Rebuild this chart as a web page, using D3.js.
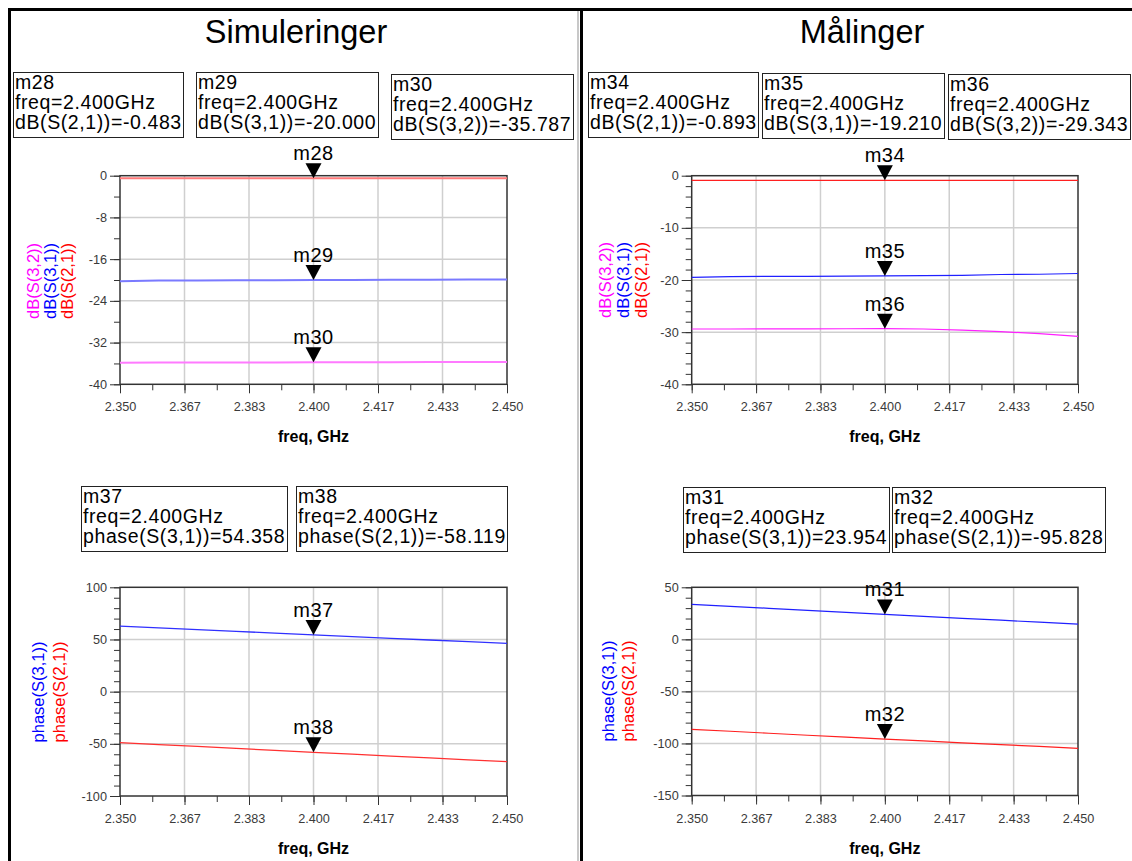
<!DOCTYPE html>
<html>
<head>
<meta charset="utf-8">
<script src="https://cdn.jsdelivr.net/npm/d3@7"></script>
<style>
  html, body { margin: 0; padding: 0; background: #fff; }
  svg { display: block; font-family: "Liberation Sans", Arial, sans-serif; }
</style>
</head>
<body>
<svg id="chart" width="1132" height="861"></svg>
<script>
// Frequency sweep (GHz)
const freqGHz = [2.35, 2.36, 2.37, 2.38, 2.39, 2.40, 2.41, 2.42, 2.43, 2.44, 2.45];

// Simulated magnitudes (dB)
const simS21dB = [-0.47, -0.47, -0.48, -0.48, -0.48, -0.483, -0.49, -0.49, -0.49, -0.50, -0.50];
const simS31dB = [-20.25, -20.1, -20.08, -20.06, -20.03, -20.0, -19.98, -19.96, -19.94, -19.92, -19.9];
const simS32dB = [-35.85, -35.84, -35.82, -35.81, -35.8, -35.787, -35.76, -35.75, -35.74, -35.73, -35.72];

// Measured magnitudes (dB)
const measS21dB = [-0.88, -0.88, -0.89, -0.89, -0.89, -0.893, -0.89, -0.89, -0.9, -0.9, -0.9];
const measS31dB = [-19.5, -19.35, -19.3, -19.3, -19.25, -19.21, -19.15, -19.1, -18.95, -18.9, -18.75];
const measS32dB = [-29.4, -29.4, -29.38, -29.36, -29.35, -29.343, -29.4, -29.6, -29.9, -30.3, -30.8];

// Simulated and measured phases (degrees)
const simS31Phase = [62.8, 61.2, 59.5, 57.8, 56.1, 54.358, 52.7, 51.1, 49.5, 47.9, 46.3];
const simS21Phase = [-48.8, -50.7, -52.5, -54.4, -56.3, -58.119, -59.9, -61.7, -63.5, -65.3, -67.1];
const measS31Phase = [33.6, 31.7, 29.8, 27.9, 25.9, 23.954, 22.1, 20.2, 18.4, 16.5, 14.7];
const measS21Phase = [-86.4, -88.3, -90.2, -92.1, -94.0, -95.828, -97.6, -99.4, -101.1, -102.9, -104.7];

// Tick labels
const xTickLabels = ["2.350", "2.367", "2.383", "2.400", "2.417", "2.433", "2.450"];
const simDbTickLabels = ["0", "-8", "-16", "-24", "-32", "-40"];
const measDbTickLabels = ["0", "-10", "-20", "-30", "-40"];
const simPhaseTickLabels = ["100", "50", "0", "-50", "-100"];
const measPhaseTickLabels = ["50", "0", "-50", "-100", "-150"];

// Marker readouts
const markerNames  = ["m28", "m29", "m30", "m34", "m35", "m36", "m37", "m38", "m31", "m32"];
const markerFreq   = [2.4, 2.4, 2.4, 2.4, 2.4, 2.4, 2.4, 2.4, 2.4, 2.4];
const markerTraces = ["dB(S(2,1))", "dB(S(3,1))", "dB(S(3,2))", "dB(S(2,1))", "dB(S(3,1))", "dB(S(3,2))",
                      "phase(S(3,1))", "phase(S(2,1))", "phase(S(3,1))", "phase(S(2,1))"];
const markerValues = [-0.483, -20.000, -35.787, -0.893, -19.210, -29.343, 54.358, -58.119, 23.954, -95.828];

const panelTitles = ["Simuleringer", "Målinger"];

const svg = d3.select("#chart");
const FONT = '"Liberation Sans", Arial, sans-serif';

// Page frame
svg.append("rect").attr("x", 0).attr("y", 0).attr("width", 1132).attr("height", 861).attr("fill", "#fff");
svg.append("rect").attr("x", 577).attr("y", 11).attr("width", 2).attr("height", 850).attr("fill", "#c8c8c8");
svg.append("rect").attr("x", 8).attr("y", 8).attr("width", 1124).attr("height", 3).attr("fill", "#000");
svg.append("rect").attr("x", 8).attr("y", 8).attr("width", 3).attr("height", 853).attr("fill", "#000");
svg.append("rect").attr("x", 580).attr("y", 8).attr("width", 3).attr("height", 853).attr("fill", "#000");

// Titles
[[296, panelTitles[0]], [862, panelTitles[1]]].forEach(([cx, t]) => {
  svg.append("text").attr("x", cx).attr("y", 43).attr("text-anchor", "middle")
    .attr("font-size", 32.5).attr("fill", "#000").text(t);
});

// Plot layouts
const plots = [
  { left: 120, right: 507, top: 175.7, bottom: 384.3, ticks: simDbTickLabels, minor: 4,
    labelX: [33, 50, 67], labelY: 281, xLabBase: 411, freqBase: 442, lw: 2,
    series: [
      { v: simS21dB, c: "#ff7a7a", name: "dB(S(2,1))" },
      { v: simS31dB, c: "#7a7aff", name: "dB(S(3,1))" },
      { v: simS32dB, c: "#ff7aff", name: "dB(S(3,2))" }],
    labels: [["dB(S(3,2))", "#ff00ff"], ["dB(S(3,1))", "#0000ff"], ["dB(S(2,1))", "#ff0000"]],
    markers: [0, 1, 2] },
  { left: 691.7, right: 1078, top: 175.7, bottom: 384.3, ticks: measDbTickLabels, minor: 2,
    labelX: [605, 623, 641], labelY: 280, xLabBase: 411, freqBase: 442, lw: 1.2,
    series: [
      { v: measS21dB, c: "#ff2020", name: "dB(S(2,1))" },
      { v: measS31dB, c: "#2020ff", name: "dB(S(3,1))" },
      { v: measS32dB, c: "#ff20ff", name: "dB(S(3,2))" }],
    labels: [["dB(S(3,2))", "#ff00ff"], ["dB(S(3,1))", "#0000ff"], ["dB(S(2,1))", "#ff0000"]],
    markers: [3, 4, 5] },
  { left: 120, right: 507, top: 587.3, bottom: 796, ticks: simPhaseTickLabels, minor: 10,
    labelX: [38, 59], labelY: 692, xLabBase: 823, freqBase: 854, lw: 1.3,
    series: [
      { v: simS31Phase, c: "#3030ff", name: "phase(S(3,1))" },
      { v: simS21Phase, c: "#ff3030", name: "phase(S(2,1))" }],
    labels: [["phase(S(3,1))", "#0000ff"], ["phase(S(2,1))", "#ff0000"]],
    markers: [6, 7] },
  { left: 691.7, right: 1078, top: 587.3, bottom: 795.5, ticks: measPhaseTickLabels, minor: 10,
    labelX: [608, 628], labelY: 691, xLabBase: 823, freqBase: 854, lw: 1.2,
    series: [
      { v: measS31Phase, c: "#2020ff", name: "phase(S(3,1))" },
      { v: measS21Phase, c: "#ff2020", name: "phase(S(2,1))" }],
    labels: [["phase(S(3,1))", "#0000ff"], ["phase(S(2,1))", "#ff0000"]],
    markers: [8, 9] }
];

const xTickVals = xTickLabels.map(Number);
const xMinor = d3.range(0, 13).map(i => 2.35 + i * (0.1 / 12));

plots.forEach(p => {
  const yVals = p.ticks.map(Number);
  const yMin = d3.min(yVals), yMax = d3.max(yVals);
  const x = d3.scaleLinear().domain([2.35, 2.45]).range([p.left, p.right]);
  const y = d3.scaleLinear().domain([yMin, yMax]).range([p.bottom, p.top]);
  const xMajor = d3.range(0, 7).map(i => 2.35 + i * (0.1 / 6));
  const g = svg.append("g");

  // grid
  g.selectAll("line.gx").data(xMajor.slice(1, -1)).join("line")
    .attr("x1", d => x(d)).attr("x2", d => x(d)).attr("y1", p.top).attr("y2", p.bottom)
    .attr("stroke", "#cfcfcf").attr("stroke-width", 1.5);
  g.selectAll("line.gy").data(yVals.filter(v => v !== yMin && v !== yMax)).join("line")
    .attr("x1", p.left).attr("x2", p.right).attr("y1", d => y(d)).attr("y2", d => y(d))
    .attr("stroke", "#cfcfcf").attr("stroke-width", 1.5);

  // minor ticks
  const yMinor = d3.range(yMin, yMax + 1e-9, p.minor);
  g.append("g").attr("transform", `translate(${p.left},0)`)
    .call(d3.axisLeft(y).tickValues(yMinor).tickSize(6).tickFormat(""))
    .call(a => a.select(".domain").remove())
    .call(a => a.selectAll("line").attr("stroke", "#333"));
  g.append("g").attr("transform", `translate(0,${p.bottom})`)
    .call(d3.axisBottom(x).tickValues(xMinor).tickSize(6).tickFormat(""))
    .call(a => a.select(".domain").remove())
    .call(a => a.selectAll("line").attr("stroke", "#333"));

  // major ticks and labels
  g.append("g").attr("transform", `translate(${p.left},0)`)
    .call(d3.axisLeft(y).tickValues(yVals).tickSize(10).tickPadding(3)
      .tickFormat((d, i) => p.ticks[i]))
    .call(a => a.select(".domain").remove())
    .call(a => a.selectAll("line").attr("stroke", "#333"))
    .call(a => a.selectAll("text").attr("font-size", 12.7).attr("font-family", FONT).attr("fill", "#3a3a3a"));
  g.append("g").attr("transform", `translate(0,${p.bottom})`)
    .call(d3.axisBottom(x).tickValues(xTickVals.map((v, i) => xMajor[i])).tickSize(9).tickPadding(0)
      .tickFormat((d, i) => xTickLabels[i]))
    .call(a => a.select(".domain").remove())
    .call(a => a.selectAll("line").attr("stroke", "#333"))
    .call(a => a.selectAll("text").attr("font-size", 12.7).attr("font-family", FONT).attr("fill", "#3a3a3a")
      .attr("dy", null).attr("y", p.xLabBase - p.bottom));

  // frame
  g.append("rect").attr("x", p.left).attr("y", p.top)
    .attr("width", p.right - p.left).attr("height", p.bottom - p.top)
    .attr("fill", "none").attr("stroke", "#333").attr("stroke-width", 1.5);

  // traces
  const line = d3.line().x((d, i) => x(freqGHz[i])).y(d => y(d));
  p.series.forEach(s => {
    g.append("path").datum(s.v).attr("d", line)
      .attr("fill", "none").attr("stroke", s.c).attr("stroke-width", p.lw);
  });

  // markers
  p.markers.forEach(mi => {
    const mx = x(markerFreq[mi]), my = y(markerValues[mi]);
    g.append("path")
      .attr("d", `M${mx},${my} L${mx - 8},${my - 15} L${mx + 8},${my - 15} Z`)
      .attr("fill", "#000");
    g.append("text").attr("x", mx).attr("y", my - 18).attr("text-anchor", "middle")
      .attr("font-size", 20).attr("letter-spacing", 0.5).attr("fill", "#000").text(markerNames[mi]);
  });

  // axis labels
  p.labels.forEach(([t, c], i) => {
    g.append("text")
      .attr("transform", `translate(${p.labelX[i]},${p.labelY}) rotate(-90)`)
      .attr("text-anchor", "middle").attr("dominant-baseline", "central")
      .attr("font-size", 16.5).attr("fill", c).text(t);
  });
  g.append("text").attr("x", (p.left + p.right) / 2).attr("y", p.freqBase)
    .attr("text-anchor", "middle").attr("font-size", 16).attr("font-weight", "bold")
    .attr("fill", "#000").text("freq, GHz");
});

// Marker readout boxes
const boxPos = [[13, 72], [196, 72], [391, 74], [588, 72], [762, 73], [948, 74],
                [81, 486], [296, 486], [683, 487], [892, 487]];
markerNames.forEach((name, i) => {
  const [bx, by] = boxPos[i];
  const g = svg.append("g");
  const rect = g.append("rect").attr("x", bx + 0.5).attr("y", by + 0.5).attr("height", 65)
    .attr("fill", "#fff").attr("stroke", "#222").attr("stroke-width", 1);
  const lines = [name, `freq=${markerFreq[i].toFixed(3)}GHz`,
                 `${markerTraces[i]}=${markerValues[i].toFixed(3)}`];
  let w = 0;
  lines.forEach((t, k) => {
    const tx = g.append("text").attr("x", bx + 2).attr("y", by + 17 + k * 20)
      .attr("font-size", 19.5).attr("letter-spacing", 0.6).attr("fill", "#000").text(t);
    w = Math.max(w, tx.node().getComputedTextLength());
  });
  rect.attr("width", Math.ceil(w) + 3);
});
</script>
</body>
</html>
